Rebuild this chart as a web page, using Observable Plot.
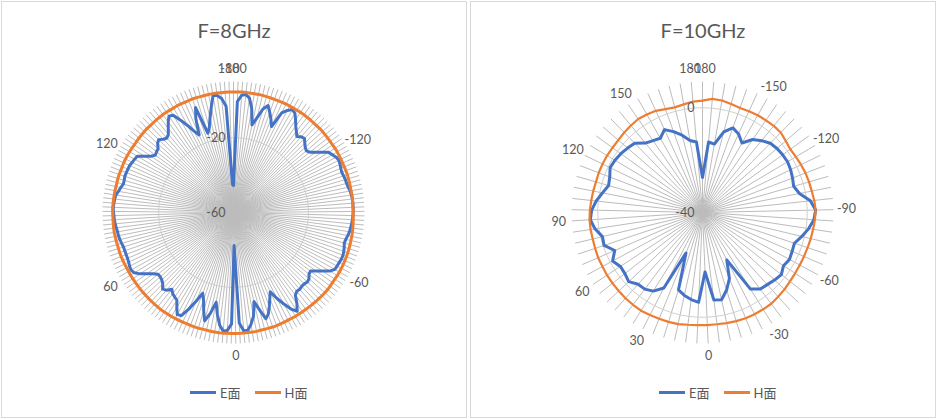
<!DOCTYPE html>
<html>
<head>
<meta charset="utf-8">
<script src="https://cdn.jsdelivr.net/npm/d3@7"></script>
<script src="https://cdn.jsdelivr.net/npm/@observablehq/plot@0.6"></script>
<style>
  html, body { margin: 0; padding: 0; background: #fff; }
  body { font-family: Lato, "Noto Sans CJK SC", sans-serif; color: #595959; }
  #wrap { position: relative; width: 937px; height: 419px; overflow: hidden; }
  .panel { position: absolute; top: 1px; width: 466px; height: 417px; border: 1px solid #d9d9d9; box-sizing: border-box; background: #fff; }
  .title { position: absolute; left: 0; right: 0; top: 16px; height: 24px; line-height: 24px; text-align: center; font-size: 20px; color: #595959; }
  .chart { position: absolute; left: 0; top: 46px; }
  .legend { position: absolute; top: 382px; left: 188px; height: 16px; display: flex; align-items: center; font-size: 13px; color: #595959; font-family: Lato, "Noto Sans CJK SC", sans-serif; }
  .legend .item { display: flex; align-items: center; margin-right: 14px; }
  .legend .sw { width: 26px; height: 3px; margin-right: 4px; }
</style>
</head>
<body>
<div id="wrap">
  <div class="panel" id="p8" style="left:1px"><div class="title" id="t8"></div><div class="chart" id="c8"></div><div class="legend" id="l8"></div></div>
  <div class="panel" id="p10" style="left:470px"><div class="title" id="t10"></div><div class="chart" id="c10"></div><div class="legend" id="l10"></div></div>
</div>
<script>
// ---------- F = 8 GHz ----------
const title8 = "F=8GHz";
const cats8 = [-180,-178,-176,-174,-172,-170,-168,-166,-164,-162,-160,-158,-156,-154,-152,
  -150,-148,-146,-144,-142,-140,-138,-136,-134,-132,-130,-128,-126,-124,-122,
  -120,-118,-116,-114,-112,-110,-108,-106,-104,-102,-100,-98,-96,-94,-92,
  -90,-88,-86,-84,-82,-80,-78,-76,-74,-72,-70,-68,-66,-64,-62,
  -60,-58,-56,-54,-52,-50,-48,-46,-44,-42,-40,-38,-36,-34,-32,
  -30,-28,-26,-24,-22,-20,-18,-16,-14,-12,-10,-8,-6,-4,-2,
  0,2,4,6,8,10,12,14,16,18,20,22,24,26,28,
  30,32,34,36,38,40,42,44,46,48,50,52,54,56,58,
  60,62,64,66,68,70,72,74,76,78,80,82,84,86,88,
  90,92,94,96,98,100,102,104,106,108,110,112,114,116,118,
  120,122,124,126,128,130,132,134,136,138,140,142,144,146,148,
  150,152,154,156,158,160,162,164,166,168,170,172,174,176,178,
  180];
const eVals8 = [-45.5,-0.7,2.8,3.4,1.7,-3.6,-12.2,-7.9,-2.5,0.1,-3.1,-6.3,-9.8,-0.9,1.7,
  3.4,2.3,-0.4,-3.1,-5.2,-7.1,-5.8,-5.2,-6.8,-8.2,-9.0,-8.0,-5.6,-2.8,0.1,
  1.2,2.3,2.8,2.5,2.0,1.7,2.0,2.3,2.4,2.8,3.4,3.7,3.9,4.0,4.0,
  4.0,3.8,3.7,3.4,3.1,2.8,2.3,1.7,1.4,2.0,2.5,2.8,2.8,2.5,2.3,
  2.1,0.2,-3.0,-5.8,-8.3,-7.9,-6.3,-5.8,-6.3,-6.3,-5.8,-6.0,-4.8,-0.6,2.8,
  0.1,-4.2,-8.5,-13.3,-10.1,-6.3,-2.6,-0.7,-6.3,-11.1,-3.6,0.4,3.4,3.5,-0.9,
  -42.3,-0.5,3.1,3.6,0.7,-4.7,-11.1,-4.7,-0.1,-5.2,-10.6,-13.8,-8.5,-3.1,1.7,
  2.3,-0.9,-4.2,-5.0,-5.8,-7.4,-5.2,-4.2,-6.3,-7.4,-7.9,-7.9,-5.9,-3.4,-0.3,
  2.0,2.8,2.5,2.0,1.7,1.6,1.6,1.6,2.0,2.4,2.7,2.8,3.2,3.5,3.8,
  3.9,4.2,4.3,4.1,3.9,3.6,2.5,1.7,0.8,0.9,1.2,1.1,1.0,0.9,0.4,
  0.0,-0.4,-3.7,-6.6,-8.2,-7.6,-7.2,-5.2,-4.2,-5.8,-6.6,-5.6,-3.1,-0.4,2.0,
  1.2,-3.1,-7.4,-11.7,-14.7,-6.0,-0.4,-15.5,-12.8,-7.9,-2.5,3.4,3.2,1.2,-3.1,
  -45.0];
const hVals8 = [4.4,4.4,4.5,4.5,4.4,4.4,4.5,4.5,4.4,4.4,4.3,4.3,4.4,4.4,4.3,
  4.3,4.3,4.4,4.4,4.3,4.3,4.2,4.2,4.3,4.3,4.2,4.2,4.1,4.1,4.2,
  4.2,4.1,4.1,4.0,4.0,4.1,4.1,4.0,4.0,3.9,3.9,4.0,4.0,3.9,3.9,
  4.0,4.0,4.1,4.2,4.3,4.4,4.5,4.5,4.6,4.7,4.7,4.8,4.8,4.9,4.9,
  4.9,4.9,4.8,4.8,4.9,5.0,5.0,4.9,4.8,4.8,4.7,4.7,4.6,4.6,4.6,
  4.6,4.5,4.5,4.6,4.6,4.7,4.7,4.6,4.6,4.6,4.7,4.7,4.6,4.6,4.6,
  4.6,4.6,4.6,4.7,4.7,4.6,4.6,4.5,4.5,4.6,4.6,4.5,4.5,4.6,4.6,
  4.6,4.7,4.7,4.8,4.8,4.7,4.7,4.6,4.6,4.5,4.5,4.5,4.4,4.4,4.4,
  4.4,4.3,4.3,4.4,4.4,4.5,4.5,4.4,4.4,4.5,4.5,4.6,4.6,4.5,4.5,
  4.5,4.6,4.6,4.5,4.5,4.4,4.4,4.3,4.3,4.4,4.4,4.3,4.3,4.4,4.4,
  4.4,4.3,4.3,4.2,4.2,4.3,4.3,4.4,4.4,4.3,4.3,4.4,4.4,4.5,4.5,
  4.4,4.4,4.5,4.5,4.4,4.4,4.5,4.5,4.4,4.4,4.4,4.5,4.5,4.4,4.4,
  4.4];
const catLabels8 = [-180,-120,-60,0,60,120,180];
const rTicks8 = [-60,-20];
const rDomain8 = [-60,10];

// ---------- F = 10 GHz ----------
const title10 = "F=10GHz";
const cats10 = [-180,-175,-170,-165,-160,-155,-150,-145,-140,-135,-130,-125,
  -120,-115,-110,-105,-100,-95,-90,-85,-80,-75,-70,-65,
  -60,-55,-50,-45,-40,-35,-30,-25,-20,-15,-10,-5,
  0,5,10,15,20,25,30,35,40,45,50,55,
  60,65,70,75,80,85,90,95,100,105,110,115,
  120,125,130,135,140,145,150,155,160,165,170,175,
  180];
const eVals10 = [-26.6,-13.0,-13.5,-8.2,-5.7,-7.0,-9.5,-6.2,-4.5,-3.0,-2.5,-2.3,
  -2.2,-2.6,-3.2,-3.8,-2.3,1.4,3.2,2.6,1.0,-1.0,-3.0,-2.7,
  -2.3,-3.0,-1.7,-2.3,-3.0,-3.4,-5.6,-19.7,-12.8,-9.0,-5.9,-6.3,
  -17.3,-5.7,-6.5,-7.6,-9.1,-23.3,-7.6,-4.6,-3.4,-3.2,-1.4,-2.3,
  -2.5,-1.0,-3.5,-0.4,-0.7,1.5,2.9,2.3,0.8,-1.1,-2.7,-2.1,
  -0.8,-1.1,-1.6,-2.3,-3.0,-5.7,-6.7,-7.4,-5.2,-7.2,-9.5,-12.1,
  -13.0];
const hVals10 = [2.7,3.5,3.4,2.8,2.4,2.5,2.7,2.7,2.8,2.7,1.9,1.3,
  1.5,1.8,2.1,2.3,2.5,2.9,3.2,3.0,2.7,2.5,2.3,2.2,
  2.2,2.3,2.5,2.9,3.2,3.6,3.6,3.6,3.6,3.4,3.2,3.0,
  3.0,3.0,3.2,3.6,3.7,3.8,4.0,4.2,4.1,4.0,3.8,3.7,
  3.6,3.4,3.4,3.2,3.1,3.2,3.2,3.0,2.7,2.5,2.3,2.4,
  2.4,2.4,2.3,2.4,2.7,3.0,3.3,3.0,2.7,1.9,1.5,1.9,
  2.5];
const catLabels10 = [-180,-150,-120,-90,-60,-30,0,30,60,90,120,150,180];
const rTicks10 = [-40,0];
const rDomain10 = [-40,10];

const seriesNames = ["E面", "H面"];
const seriesColors = ["#4472C4", "#ED7D31"];

function radar(cats, eVals, hVals, rDomain, rTicks, catLabels, hWidth) {
  const W = 462, H = 328, R = 131;
  const n = cats.length;
  const rs = d3.scaleLinear().domain(rDomain).range([0, 1]);
  const ang = i => 2 * Math.PI * i / n;
  const at = (i, v) => ({x: rs(v) * Math.sin(ang(i)), y: rs(v) * Math.cos(ang(i))});
  const closed = arr => [...arr, arr[0]];
  const spokes = cats.map((c, i) => ({x1: 0, y1: 0, x2: Math.sin(ang(i)), y2: Math.cos(ang(i))}));
  const rings = rTicks.filter(t => t > rDomain[0]).flatMap(t => closed(cats.map((c, i) => ({...at(i, t), t}))));
  const eLine = closed(eVals.map((v, i) => at(i, v)));
  const hLine = closed(hVals.map((v, i) => at(i, v)));
  const labR = 144 / R;
  const labs = catLabels.map(c => {
    const i = cats.indexOf(c);
    return {x: labR * Math.sin(ang(i)), y: labR * Math.cos(ang(i)), text: String(c)};
  });
  const rLabs = rTicks.map(t => ({x: 0, y: rs(t), text: String(t)}));
  return Plot.plot({
    width: W, height: H, margin: 0,
    x: {domain: [-W / 2 / R, W / 2 / R], axis: null},
    y: {domain: [-H / 2 / R, H / 2 / R], axis: null},
    style: {background: "transparent", fontFamily: "Lato, 'Noto Sans CJK SC', sans-serif"},
    marks: [
      Plot.link(spokes, {x1: "x1", y1: "y1", x2: "x2", y2: "y2", stroke: "#bcbcbc", strokeWidth: 1}),
      Plot.line(rings, {x: "x", y: "y", z: "t", stroke: "#d0d0d0", strokeWidth: 1}),
      Plot.line(eLine, {x: "x", y: "y", stroke: seriesColors[0], strokeWidth: 3, strokeLinejoin: "round"}),
      Plot.line(hLine, {x: "x", y: "y", stroke: seriesColors[1], strokeWidth: hWidth, strokeLinejoin: "round"}),
      Plot.text(labs, {x: "x", y: "y", text: "text", fontSize: 12.5, fill: "#595959"}),
      Plot.text(rLabs, {x: "x", y: "y", text: "text", fontSize: 12.5, fill: "#595959", textAnchor: "end", dx: -8})
    ]
  });
}

function legend(el) {
  seriesNames.forEach((name, k) => {
    const item = document.createElement("div");
    item.className = "item";
    const sw = document.createElement("div");
    sw.className = "sw";
    sw.style.background = seriesColors[k];
    const tx = document.createElement("span");
    tx.textContent = name;
    item.appendChild(sw);
    item.appendChild(tx);
    el.appendChild(item);
  });
}

document.getElementById("t8").textContent = title8;
document.getElementById("t10").textContent = title10;
document.getElementById("c8").appendChild(radar(cats8, eVals8, hVals8, rDomain8, rTicks8, catLabels8, 3));
document.getElementById("c10").appendChild(radar(cats10, eVals10, hVals10, rDomain10, rTicks10, catLabels10, 2.2));
legend(document.getElementById("l8"));
legend(document.getElementById("l10"));
</script>
</body>
</html>
